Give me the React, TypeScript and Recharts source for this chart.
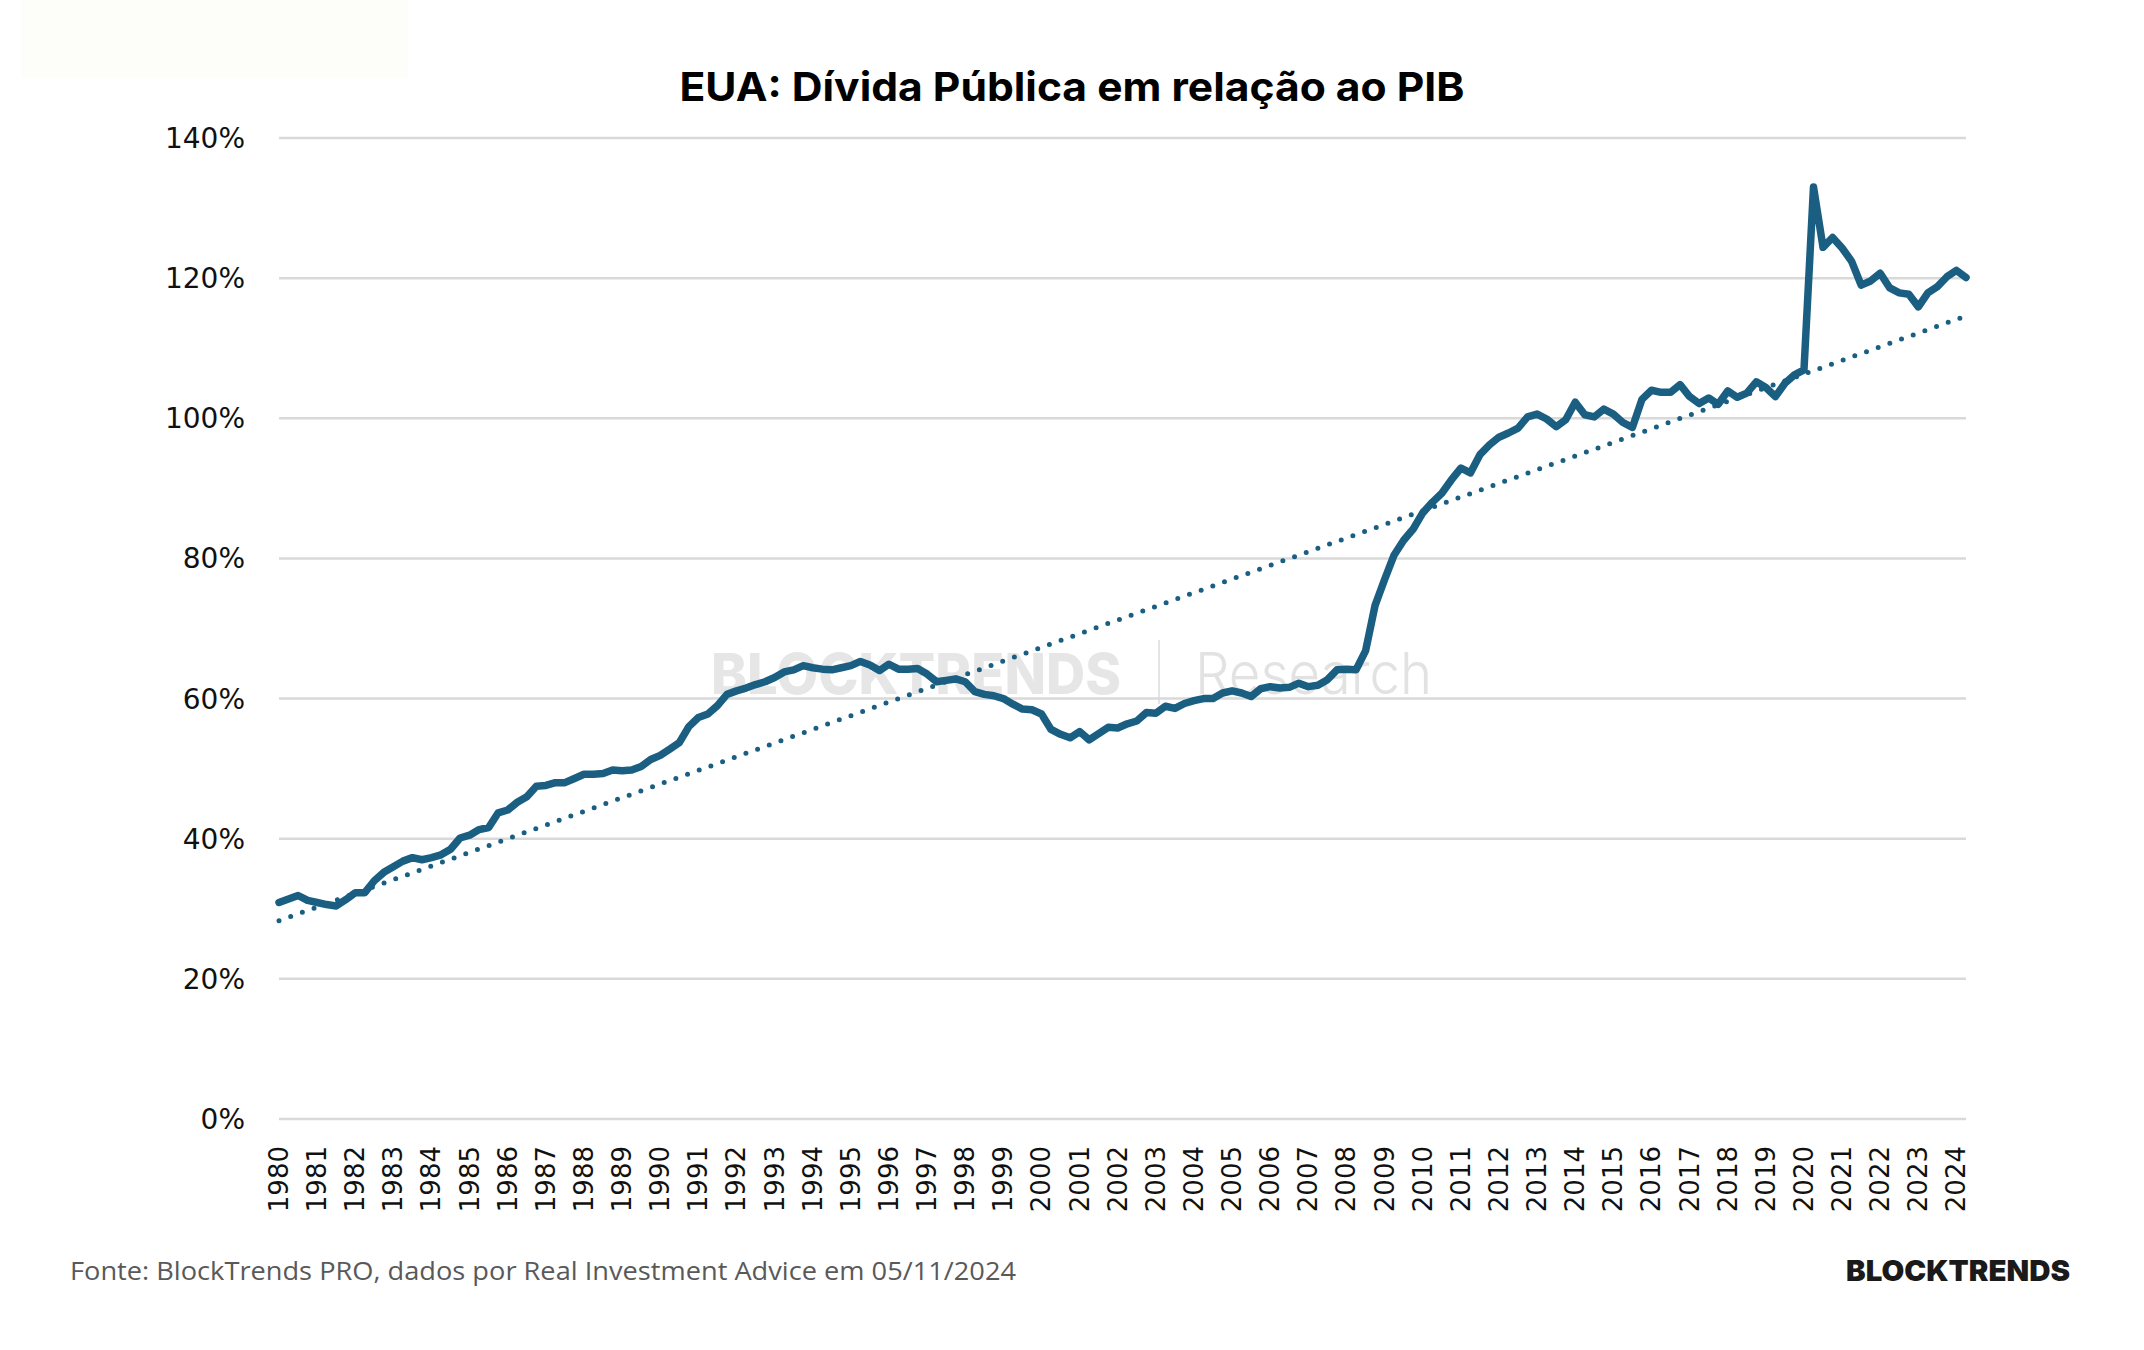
import React from "react";
import { LineChart, Line, XAxis, YAxis, CartesianGrid } from "recharts";

// Quarterly US public debt as % of GDP, 1980 Q1 .. 2024 Q2
const debtToGdp: number[] = [
  30.9, 31.4, 31.9, 31.2, 30.9, 30.6, 30.4, 31.3, 32.3, 32.3,
  34.0, 35.2, 36.0, 36.8, 37.3, 37.0, 37.3, 37.7, 38.5, 40.1,
  40.5, 41.3, 41.6, 43.7, 44.1, 45.2, 46.0, 47.5, 47.6, 48.0,
  48.0, 48.6, 49.2, 49.2, 49.3, 49.8, 49.7, 49.8, 50.3, 51.3,
  51.9, 52.8, 53.7, 56.0, 57.3, 57.8, 59.0, 60.6, 61.1, 61.5,
  62.0, 62.4, 63.0, 63.8, 64.1, 64.7, 64.4, 64.2, 64.1, 64.4,
  64.7, 65.3, 64.8, 64.0, 64.9, 64.2, 64.2, 64.3, 63.5, 62.4,
  62.6, 62.8, 62.4, 61.0, 60.6, 60.4, 60.0, 59.2, 58.5, 58.4,
  57.8, 55.6, 54.9, 54.4, 55.3, 54.1, 55.0, 55.9, 55.8, 56.4,
  56.8, 58.0, 57.9, 58.9, 58.6, 59.3, 59.7, 60.0, 60.0, 60.8,
  61.1, 60.8, 60.3, 61.4, 61.7, 61.5, 61.6, 62.2, 61.7, 61.9,
  62.7, 64.1, 64.2, 64.1, 66.8, 73.3, 77.0, 80.5, 82.6, 84.2,
  86.5, 88.0, 89.3, 91.2, 92.9, 92.2, 94.8, 96.2, 97.3, 97.9,
  98.6, 100.2, 100.6, 99.9, 98.8, 99.8, 102.3, 100.5, 100.2, 101.3,
  100.6, 99.4, 98.7, 102.7, 104.0, 103.7, 103.7, 104.8, 103.1, 102.1,
  102.9, 102.0, 103.9, 103.0, 103.6, 105.2, 104.4, 103.1, 105.0, 106.2,
  106.9, 133.0, 124.4, 125.8, 124.3, 122.4, 119.0, 119.6, 120.7, 118.6,
  117.9, 117.7, 115.9, 117.9, 118.8, 120.2, 121.1, 120.1,
];

// Linear trend line as drawn (value at first and last quarter)
const trendEndpoints: number[] = [28.3, 114.6];

// Year tick labels (one per Q1)
const yearLabels: number[] = [
  1980, 1981, 1982, 1983, 1984, 1985, 1986, 1987, 1988, 1989,
  1990, 1991, 1992, 1993, 1994, 1995, 1996, 1997, 1998, 1999,
  2000, 2001, 2002, 2003, 2004, 2005, 2006, 2007, 2008, 2009,
  2010, 2011, 2012, 2013, 2014, 2015, 2016, 2017, 2018, 2019,
  2020, 2021, 2022, 2023, 2024,
];

const yTicks: number[] = [0, 20, 40, 60, 80, 100, 120, 140];

const LINE_COLOR = "#1a5f82";

const data = debtToGdp.map((v, i) => ({
  t: i,
  debt: v,
  trend:
    i === 0
      ? trendEndpoints[0]
      : i === debtToGdp.length - 1
      ? trendEndpoints[1]
      : null,
}));

const xTicks = yearLabels.map((_, k) => k * 4);

const XTick = (props: any) => {
  const { x, y, payload } = props;
  const label = yearLabels[Math.round(payload.value / 4)];
  return (
    <text
      x={x}
      y={y}
      transform={`rotate(-90, ${x}, ${y})`}
      textAnchor="end"
      dominantBaseline="central"
      fontFamily="DejaVu Sans"
      fontSize={26}
      fill="#111"
    >
      {label}
    </text>
  );
};

export default function App() {
  return (
    <div
      style={{
        position: "absolute",
        left: 0,
        top: 0,
        width: 2144,
        height: 1350,
        background: "#ffffff",
        overflow: "hidden",
      }}
    >
      <div
        style={{
          position: "absolute",
          left: 21,
          top: 0,
          width: 387,
          height: 78,
          background: "#fdfdfa",
        }}
      />
      <svg
        width={2144}
        height={1350}
        style={{ position: "absolute", left: 0, top: 0 }}
      >
        <text
          x={1072}
          y={101}
          textAnchor="middle"
          fontFamily="Inter, Roboto, sans-serif"
          fontWeight={700}
          fontSize={40}
          fill="#000"
          textLength={785}
          lengthAdjust="spacingAndGlyphs"
        >
          EUA: Dívida Pública em relação ao PIB
        </text>
        {/* watermark */}
        <text
          x={711}
          y={694}
          fontFamily="Inter, sans-serif"
          fontWeight={800}
          fontSize={56}
          fill="#e6e6e6"
          textLength={410}
          lengthAdjust="spacingAndGlyphs"
        >
          BLOCKTRENDS
        </text>
        <line x1={1159} y1={640} x2={1159} y2={704} stroke="#e4e4e4" strokeWidth={2} />
        <text
          x={1195}
          y={694}
          fontFamily="Inter, sans-serif"
          fontWeight={300}
          fontSize={58}
          fill="#e2e2e2"
          textLength={237}
          lengthAdjust="spacingAndGlyphs"
        >
          Research
        </text>
        {/* footer */}
        <text
          x={70}
          y={1280}
          fontFamily="'Open Sans', 'Noto Sans', sans-serif"
          fontSize={25}
          fill="#595959"
          textLength={946}
          lengthAdjust="spacingAndGlyphs"
        >
          Fonte: BlockTrends PRO, dados por Real Investment Advice em 05/11/2024
        </text>
        <text
          x={1846}
          y={1281}
          fontFamily="Inter, sans-serif"
          fontWeight={900}
          fontSize={29}
          fill="#1a1a1a"
          textLength={224}
          lengthAdjust="spacingAndGlyphs"
        >
          BLOCKTRENDS
        </text>
      </svg>
      <div style={{ position: "absolute", left: 0, top: 0 }}>
        <LineChart
          width={2144}
          height={1350}
          data={data}
          margin={{ top: 138, right: 178, bottom: 0, left: 0 }}
        >
          <CartesianGrid
            horizontal={true}
            vertical={false}
            stroke="#d9d9d9"
            strokeWidth={2.5}
          />
          <XAxis
            dataKey="t"
            type="number"
            domain={[0, debtToGdp.length - 1]}
            ticks={xTicks}
            interval={0}
            tick={<XTick />}
            tickLine={false}
            axisLine={false}
            tickSize={0}
            tickMargin={27}
            height={231}
          />
          <YAxis
            type="number"
            domain={[0, 140]}
            ticks={yTicks}
            tickFormatter={(v: number) => `${v}%`}
            tick={{ fontFamily: "DejaVu Sans", fontSize: 28, fill: "#111" }}
            tickLine={false}
            axisLine={false}
            tickSize={0}
            tickMargin={34}
            width={279}
          />
          <Line
            dataKey="trend"
            type="linear"
            connectNulls={true}
            stroke={LINE_COLOR}
            strokeWidth={5}
            strokeDasharray="0 12.4"
            strokeLinecap="round"
            dot={false}
            activeDot={false}
            isAnimationActive={false}
          />
          <Line
            dataKey="debt"
            type="linear"
            stroke={LINE_COLOR}
            strokeWidth={7.5}
            strokeLinejoin="round"
            strokeLinecap="round"
            dot={false}
            activeDot={false}
            isAnimationActive={false}
          />
        </LineChart>
      </div>
    </div>
  );
}
